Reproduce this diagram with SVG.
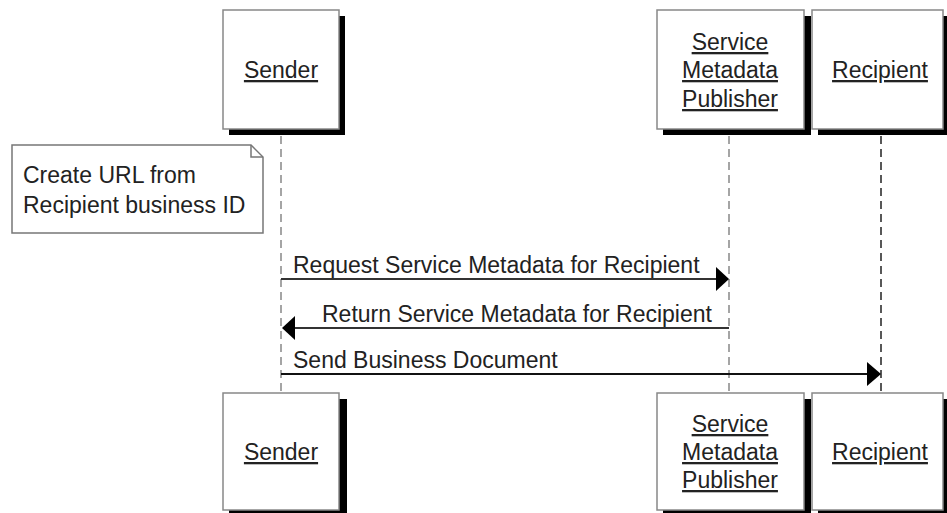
<svg xmlns="http://www.w3.org/2000/svg" width="947" height="513" viewBox="0 0 947 513">
<style>
.box{fill:#fff;stroke:#888;stroke-width:1.5}
.shadow{fill:#000}
.lbl{font-family:"Liberation Sans",Arial,sans-serif;font-size:23px;fill:#222;text-decoration:underline}
.txt{font-family:"Liberation Sans",Arial,sans-serif;font-size:23px;fill:#222}
.life{stroke:#888;stroke-width:1.5;stroke-dasharray:8 5;fill:none}
.msg{stroke:#333;stroke-width:2;fill:none}
.head{fill:#000}
</style>
<rect width="947" height="513" fill="#fff"/>
<g id="connectors">
<line class="life" x1="281" y1="136" x2="281" y2="393"/>
<line class="life" x1="729" y1="136" x2="729" y2="393"/>
<line class="life" x1="881" y1="136" x2="881" y2="393" style="stroke:#222"/>
<line class="msg" x1="281" y1="279" x2="718" y2="279"/>
<polygon class="head" points="716,267 729,279 716,291"/>
<text class="txt" x="293" y="273">Request Service Metadata for Recipient</text>
<line class="msg" x1="729" y1="328" x2="293" y2="328"/>
<polygon class="head" points="295,316 282,328 295,340"/>
<text class="txt" x="322" y="322">Return Service Metadata for Recipient</text>
<line class="msg" x1="281" y1="374" x2="869" y2="374" style="stroke:#111"/>
<polygon class="head" points="867,362 881,374 867,386"/>
<text class="txt" x="293" y="368">Send Business Document</text>
</g>
<g id="note">
<path d="M12,145 H251 L263,157 V233 H12 Z" fill="#fff" stroke="#777" stroke-width="1.5"/>
<path d="M251,145 V157 H263" fill="none" stroke="#777" stroke-width="1.5"/>
<text class="txt" x="23" y="183">Create URL from</text>
<text class="txt" x="23" y="213">Recipient business ID</text>
</g>
<g id="sender-top">
<rect class="shadow" x="229" y="16" width="116" height="119"/>
<rect class="box" x="223" y="10" width="116" height="119"/>
<text class="lbl" x="281" y="78" text-anchor="middle">Sender</text>
</g>
<g id="smp-top">
<rect class="shadow" x="663" y="16" width="148" height="119"/>
<rect class="box" x="657" y="10" width="147" height="119"/>
<text class="lbl" x="730" y="50" text-anchor="middle">Service</text>
<text class="lbl" x="730" y="78" text-anchor="middle">Metadata</text>
<text class="lbl" x="730" y="107" text-anchor="middle">Publisher</text>
</g>
<g id="recipient-top">
<rect class="shadow" x="818" y="16" width="131" height="119"/>
<rect class="box" x="812" y="10" width="131" height="119"/>
<text class="lbl" x="880" y="78" text-anchor="middle">Recipient</text>
</g>
<g id="sender-bottom">
<rect class="shadow" x="229" y="399" width="118" height="117"/>
<rect class="box" x="223" y="393" width="116" height="117"/>
<text class="lbl" x="281" y="460" text-anchor="middle">Sender</text>
</g>
<g id="smp-bottom">
<rect class="shadow" x="663" y="399" width="148" height="117"/>
<rect class="box" x="657" y="393" width="147" height="117"/>
<text class="lbl" x="730" y="432" text-anchor="middle">Service</text>
<text class="lbl" x="730" y="460" text-anchor="middle">Metadata</text>
<text class="lbl" x="730" y="488" text-anchor="middle">Publisher</text>
</g>
<g id="recipient-bottom">
<rect class="shadow" x="818" y="399" width="131" height="117"/>
<rect class="box" x="812" y="393" width="131" height="117"/>
<text class="lbl" x="880" y="460" text-anchor="middle">Recipient</text>
</g>
</svg>
